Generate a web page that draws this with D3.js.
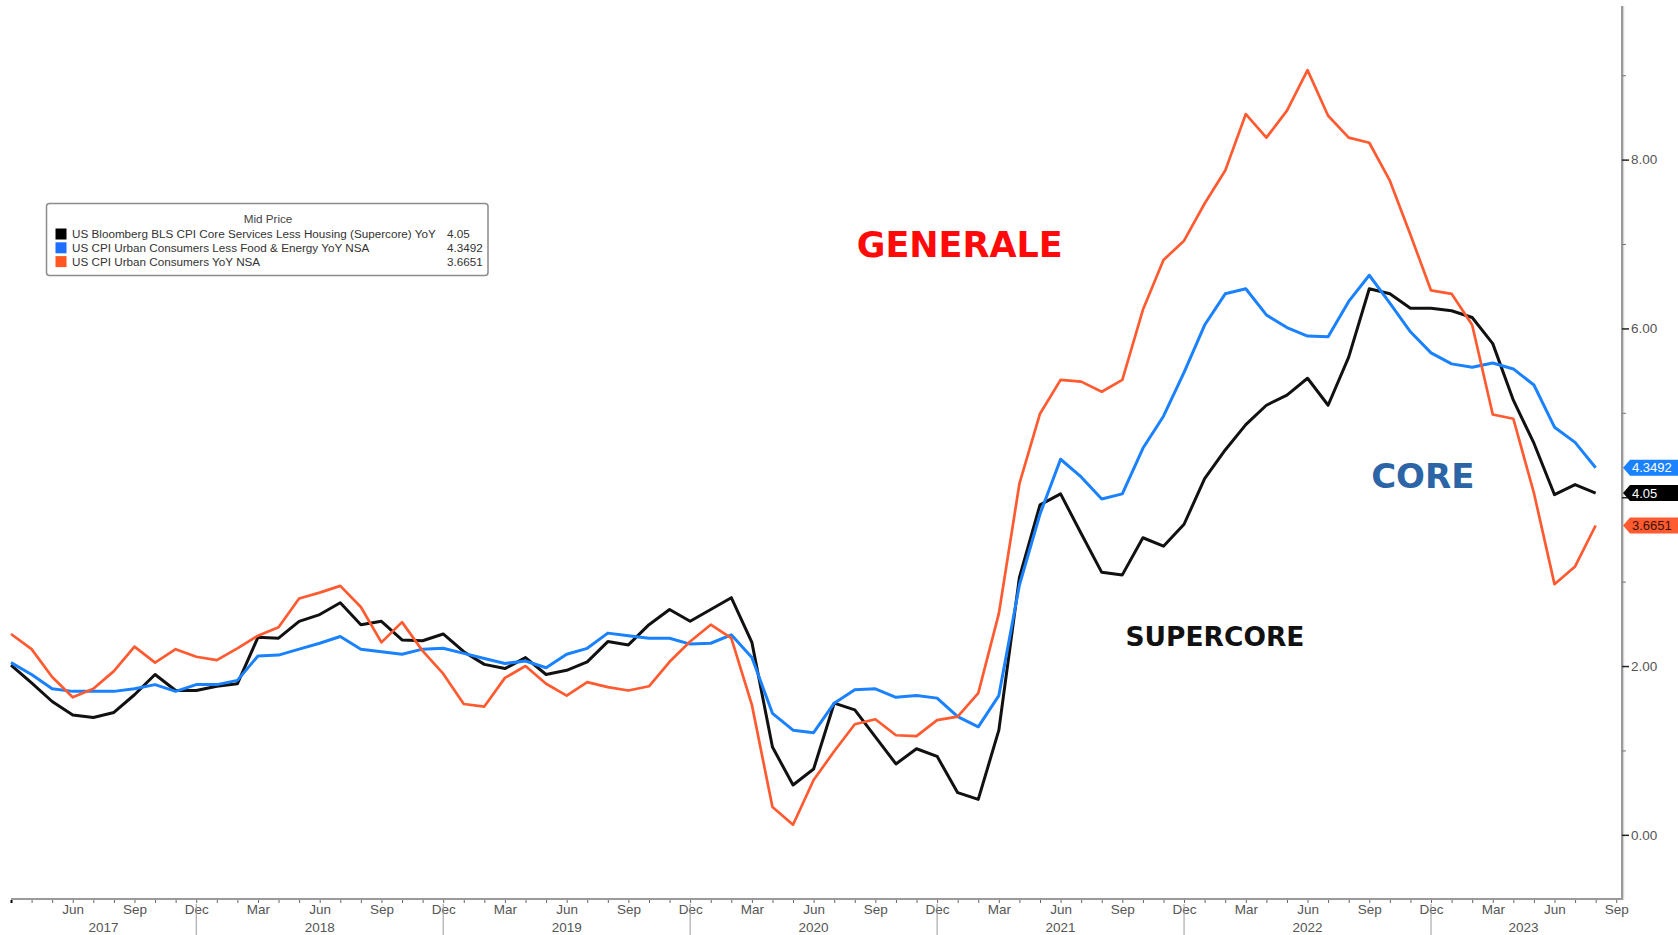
<!DOCTYPE html>
<html>
<head>
<meta charset="utf-8">
<script src="https://cdn.jsdelivr.net/npm/d3@7"></script>
<style>
  html, body { margin: 0; padding: 0; background: #fff; }
  svg { display: block; }
</style>
</head>
<body>
<div id="chart"></div>
<script>
// Monthly YoY readings, Mar 2017 .. Aug 2023
const startYear = 2017;
const startMonth = 2; // March (0 = Jan)

const supercore = [
  2.01, 1.80, 1.58, 1.42, 1.39, 1.45, 1.66, 1.90, 1.71, 1.71, 1.76, 1.79,
  2.34, 2.33, 2.53, 2.61, 2.75, 2.49, 2.53, 2.31, 2.30, 2.38, 2.17, 2.02,
  1.97, 2.10, 1.90, 1.95, 2.05, 2.29, 2.25, 2.49, 2.67, 2.53, 2.67, 2.81,
  2.28, 1.04, 0.59, 0.78, 1.56, 1.48, 1.16, 0.84, 1.02, 0.93, 0.50, 0.42,
  1.24, 3.05, 3.91, 4.04, 3.57, 3.11, 3.08, 3.52, 3.42, 3.68, 4.22, 4.56,
  4.86, 5.09, 5.21, 5.41, 5.09, 5.66, 6.47, 6.41, 6.24, 6.24, 6.21, 6.13,
  5.82, 5.15, 4.64, 4.03, 4.15, 4.05
];

const coreCpi = [
  2.04, 1.90, 1.73, 1.70, 1.70, 1.70, 1.73, 1.78, 1.70, 1.78, 1.78, 1.83,
  2.12, 2.13, 2.20, 2.27, 2.35, 2.20, 2.17, 2.14, 2.20, 2.21, 2.15, 2.09,
  2.03, 2.06, 1.98, 2.14, 2.21, 2.39, 2.36, 2.33, 2.33, 2.26, 2.27, 2.37,
  2.10, 1.44, 1.24, 1.21, 1.56, 1.72, 1.73, 1.63, 1.65, 1.62, 1.40, 1.28,
  1.65, 2.96, 3.80, 4.45, 4.24, 3.98, 4.04, 4.58, 4.96, 5.48, 6.04, 6.41,
  6.47, 6.16, 6.01, 5.91, 5.90, 6.32, 6.63, 6.30, 5.96, 5.71, 5.58, 5.54,
  5.59, 5.52, 5.33, 4.83, 4.65, 4.3492
];

const headlineCpi = [
  2.38, 2.20, 1.87, 1.63, 1.73, 1.94, 2.23, 2.04, 2.20, 2.11, 2.07, 2.21,
  2.36, 2.46, 2.80, 2.87, 2.95, 2.70, 2.28, 2.52, 2.18, 1.91, 1.55, 1.52,
  1.86, 2.00, 1.79, 1.65, 1.81, 1.75, 1.71, 1.76, 2.05, 2.29, 2.49, 2.33,
  1.54, 0.33, 0.12, 0.65, 0.99, 1.31, 1.37, 1.18, 1.17, 1.36, 1.40, 1.68,
  2.62, 4.16, 4.99, 5.39, 5.37, 5.25, 5.39, 6.22, 6.81, 7.04, 7.48, 7.87,
  8.54, 8.26, 8.58, 9.06, 8.52, 8.26, 8.20, 7.75, 7.11, 6.45, 6.41, 6.04,
  4.98, 4.93, 4.05, 2.97, 3.18, 3.6651
];

const seriesNames = [
  'US Bloomberg BLS CPI Core Services Less Housing (Supercore) YoY',
  'US CPI Urban Consumers Less Food & Energy YoY NSA',
  'US CPI Urban Consumers YoY NSA'
];
const seriesLast = ['4.05', '4.3492', '3.6651'];
const seriesColors = ['#111111', '#1a82ff', '#ff5a30'];
const tagFill = ['#000000', '#1a82ff', '#ff5a30'];
const tagText = ['#ffffff', '#ffffff', '#3a140a'];

const monthNames = ['Jan', 'Feb', 'Mar', 'Apr', 'May', 'Jun', 'Jul', 'Aug', 'Sep', 'Oct', 'Nov', 'Dec'];
const labelledMonths = [2, 5, 8, 11];
const yTicks = [0, 2, 4, 6, 8];
const yHiddenLabels = [4]; // covered by the last-value tags
const yMinorTicks = [1, 3, 5, 7, 9];

const W = 1678, H = 935;
const svg = d3.select('#chart').append('svg')
  .attr('width', W).attr('height', H)
  .style('font-family', '"Liberation Sans", Arial, sans-serif');

const nMonths = supercore.length;
const axisX = 1622;
const axisY = 899;
const x = d3.scaleLinear().domain([0, nMonths]).range([11, 11 + nMonths * 20.58]);
const y = d3.scaleLinear().domain([-0.76, 9.82]).range([axisY, 6]);

const monthOf = i => (startMonth + i) % 12;
const yearOf = i => startYear + Math.floor((startMonth + i) / 12);

// --- bottom axis ---
const xAxis = d3.axisBottom(x)
  .tickValues(d3.range(0, nMonths + 1))
  .tickSize(4)
  .tickSizeOuter(0)
  .tickFormat(i => (i > 0 && labelledMonths.includes(monthOf(i))) ? monthNames[monthOf(i)] : '');

const gx = svg.append('g').attr('transform', `translate(0,${axisY})`).call(xAxis);
gx.select('.domain').remove();
gx.selectAll('.tick line').attr('stroke', '#666').attr('y1', 1);
gx.select('.tick line').attr('stroke', '#000').attr('stroke-width', 2);
gx.selectAll('.tick text')
  .attr('y', 5).attr('dy', '0.71em')
  .attr('fill', '#555').attr('font-size', '13.5px')
  .attr('font-family', '"Liberation Sans", Arial, sans-serif');

svg.append('line')
  .attr('x1', x(0)).attr('x2', axisX)
  .attr('y1', axisY).attr('y2', axisY)
  .attr('stroke', '#9a9a9a').attr('stroke-width', 2);

// year separators and year labels
const decIdx = d3.range(0, nMonths).filter(i => monthOf(i) === 11);
decIdx.forEach(i => {
  svg.append('line')
    .attr('x1', x(i)).attr('x2', x(i))
    .attr('y1', 904).attr('y2', H)
    .attr('stroke', '#999').attr('stroke-width', 1);
});
const bounds = [0, ...decIdx, nMonths];
for (let k = 0; k < bounds.length - 1; k++) {
  svg.append('text')
    .attr('x', x((bounds[k] + bounds[k + 1]) / 2))
    .attr('y', 932)
    .attr('text-anchor', 'middle')
    .attr('fill', '#555').attr('font-size', '13.5px')
    .text(yearOf(bounds[k] + 1));
}

// --- right axis ---
svg.append('line')
  .attr('x1', axisX + 1.5).attr('x2', axisX + 1.5)
  .attr('y1', 6).attr('y2', axisY + 1)
  .attr('stroke', '#d6d6d6').attr('stroke-width', 1.5);
svg.append('line')
  .attr('x1', axisX).attr('x2', axisX)
  .attr('y1', 6).attr('y2', axisY + 1)
  .attr('stroke', '#9a9a9a').attr('stroke-width', 2);

const gy = svg.append('g').attr('transform', `translate(${axisX},0)`)
  .call(d3.axisRight(y).tickValues(yTicks).tickSize(7)
    .tickFormat(v => yHiddenLabels.includes(v) ? '' : d3.format('.2f')(v)));
gy.select('.domain').remove();
gy.selectAll('.tick line').attr('stroke', '#222').attr('stroke-width', 1.5);
gy.selectAll('.tick text')
  .attr('x', 9)
  .attr('fill', '#555').attr('font-size', '13.5px')
  .attr('font-family', '"Liberation Sans", Arial, sans-serif');

const gyMinor = svg.append('g').attr('transform', `translate(${axisX},0)`)
  .call(d3.axisRight(y).tickValues(yMinorTicks).tickSize(4).tickFormat(''));
gyMinor.select('.domain').remove();
gyMinor.selectAll('.tick line').attr('stroke', '#777');

// --- series lines ---
const line = d3.line().x((d, i) => x(i)).y(d => y(d));
const series = [supercore, coreCpi, headlineCpi];
series.forEach((s, k) => {
  svg.append('path')
    .datum(s)
    .attr('fill', 'none')
    .attr('stroke', seriesColors[k])
    .attr('stroke-width', k === 2 ? 2.7 : 3)
    .attr('stroke-linejoin', 'round')
    .attr('d', line);
});

// --- last value tags on the right axis ---
series.forEach((s, k) => {
  const cy = y(s[s.length - 1]);
  svg.append('path')
    .attr('d', `M${axisX + 1},${cy} L${axisX + 8},${cy - 8} L${W},${cy - 8} L${W},${cy + 8} L${axisX + 8},${cy + 8} Z`)
    .attr('fill', tagFill[k]);
  svg.append('text')
    .attr('x', axisX + 10).attr('y', cy)
    .attr('dy', '0.35em')
    .attr('fill', tagText[k]).attr('font-size', '13px')
    .text(seriesLast[k]);
});

// --- legend ---
const lg = svg.append('g');
lg.append('rect')
  .attr('x', 46.5).attr('y', 203.5)
  .attr('width', 441.5).attr('height', 72)
  .attr('rx', 3).attr('ry', 3)
  .attr('fill', '#fff')
  .attr('stroke', '#8c8c8c').attr('stroke-width', 1.5);
lg.append('text')
  .attr('x', 268).attr('y', 223)
  .attr('text-anchor', 'middle')
  .attr('fill', '#444').attr('font-size', '11.7px')
  .text('Mid Price');
const swatchColors = ['#000', '#1f6fff', '#ff5722'];
seriesNames.forEach((name, k) => {
  const cy = 234 + k * 13.8;
  lg.append('rect')
    .attr('x', 55.5).attr('y', cy - 5.5)
    .attr('width', 11).attr('height', 11)
    .attr('fill', swatchColors[k]);
  lg.append('text')
    .attr('x', 72).attr('y', cy + 4)
    .attr('fill', '#333').attr('font-size', '11.7px')
    .text(name);
  lg.append('text')
    .attr('x', 447).attr('y', cy + 4)
    .attr('fill', '#333').attr('font-size', '11.7px')
    .text(seriesLast[k]);
});

// --- annotations, anchored in data coordinates ---
const notes = [
  { text: 'GENERALE', at: [46.1, 6.99], size: 35, color: '#ff0a0a' },
  { text: 'CORE', at: [68.6, 4.26], size: 34, color: '#2b65a6' },
  { text: 'SUPERCORE', at: [58.5, 2.355], size: 26.5, color: '#111' }
];
notes.forEach(n => {
  svg.append('text')
    .attr('x', x(n.at[0])).attr('y', y(n.at[1]))
    .attr('text-anchor', 'middle')
    .attr('dy', '0.36em')
    .attr('font-family', '"DejaVu Sans", Verdana, sans-serif')
    .attr('font-weight', 'bold')
    .attr('font-size', n.size + 'px')
    .attr('fill', n.color)
    .text(n.text);
});
</script>
</body>
</html>
